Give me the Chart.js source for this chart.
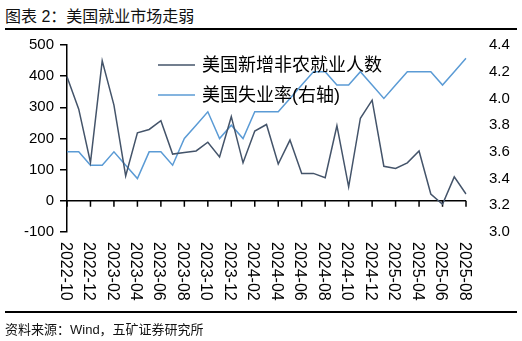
<!DOCTYPE html>
<html>
<head>
<meta charset="utf-8">
<script src="https://cdn.jsdelivr.net/npm/chart.js@4/dist/chart.umd.min.js"></script>
<style>
    body { margin: 0; background: #fff; font-family: "Liberation Sans", "Noto Sans CJK SC", sans-serif; }
    #cadre { position: relative; width: 522px; height: 341px; overflow: hidden; }
    #titre { position: absolute; left: 5px; top: 3px; font-size: 16px; color: #111; white-space: nowrap; }
    .filet { position: absolute; left: 5px; width: 512px; height: 2px; background: #000; }
    #source { position: absolute; left: 5px; top: 319px; font-size: 13px; color: #111; white-space: nowrap; }
    canvas { position: absolute; left: 0; top: 0; }
</style>
</head>
<body>
<div id="cadre">
    <div id="titre">图表 2：美国就业市场走弱</div>
    <div class="filet" style="top:28px"></div>
    <canvas id="graphique" width="522" height="341"></canvas>
    <div class="filet" style="top:311px"></div>
    <div id="source">资料来源：Wind，五矿证券研究所</div>
</div>
<script>
// Données (mensuel, 2022-10 -> 2025-08)
const mois = [
    '2022-10', '2022-11', '2022-12', '2023-01', '2023-02', '2023-03', '2023-04', '2023-05', '2023-06',
    '2023-07', '2023-08', '2023-09', '2023-10', '2023-11', '2023-12', '2024-01', '2024-02', '2024-03',
    '2024-04', '2024-05', '2024-06', '2024-07', '2024-08', '2024-09', '2024-10', '2024-11', '2024-12',
    '2025-01', '2025-02', '2025-03', '2025-04', '2025-05', '2025-06', '2025-07', '2025-08'
];
// 美国新增非农就业人数 (milliers, axe gauche)
const emploisNonAgricoles = [
    398, 294, 123, 449, 307, 80, 218, 229, 257, 150, 155, 160, 188, 141, 270, 122, 224, 245,
    118, 195, 88, 88, 74, 241, 45, 265, 323, 111, 104, 122, 160, 22, -11, 77, 22
];
// 美国失业率 (%, axe droit)
const tauxChomage = [
    3.6, 3.6, 3.5, 3.5, 3.6, 3.5, 3.4, 3.6, 3.6, 3.5, 3.7, 3.8, 3.9, 3.7, 3.8, 3.7, 3.9, 3.9,
    3.9, 4.0, 4.1, 4.2, 4.2, 4.1, 4.1, 4.2, 4.1, 4.0, 4.1, 4.2, 4.2, 4.2, 4.1, 4.2, 4.3
];
const ticksGauche = [-100, 0, 100, 200, 300, 400, 500];
const ticksDroite = [3.0, 3.2, 3.4, 3.6, 3.8, 4.0, 4.2, 4.4];

const POLICE = '"Liberation Sans", "Noto Sans CJK SC", sans-serif';
const COULEUR_EMPLOI = '#44546A';
const COULEUR_CHOMAGE = '#5B9BD5';

// Axe des X dessiné sur la ligne zéro + étiquettes verticales + légende maison
const axeZero = {
    id: 'axeZero',
    beforeDatasetsDraw(chart) {
        const { ctx, chartArea, scales } = chart;
        const y0 = scales.yG.getPixelForValue(0);
        ctx.save();
        ctx.strokeStyle = '#000';
        ctx.lineWidth = 1.5;
        ctx.beginPath();
        ctx.moveTo(chartArea.left, y0);
        ctx.lineTo(chartArea.right, y0);
        mois.forEach((m, i) => {
            if (i % 2) return;
            const px = scales.x.getPixelForValue(i);
            ctx.moveTo(px, y0);
            ctx.lineTo(px, y0 + 6);
        });
        ctx.stroke();
        ctx.restore();
    },
    afterDraw(chart) {
        const { ctx, scales } = chart;
        ctx.save();
        // étiquettes des mois, tournées de 90° dans le sens horaire
        ctx.fillStyle = '#000';
        ctx.font = '16px ' + POLICE;
        ctx.textAlign = 'left';
        ctx.textBaseline = 'middle';
        mois.forEach((m, i) => {
            if (i % 2) return;
            const px = scales.x.getPixelForValue(i);
            ctx.save();
            ctx.translate(px - 2, 242);
            ctx.rotate(Math.PI / 2);
            ctx.fillText(m, 0, 0);
            ctx.restore();
        });
        // légende
        ctx.font = '18px ' + POLICE;
        chart.data.datasets.forEach((ds, i) => {
            const y = 65 + i * 30;
            ctx.strokeStyle = ds.borderColor;
            ctx.lineWidth = 1.5;
            ctx.beginPath();
            ctx.moveTo(158, y);
            ctx.lineTo(195, y);
            ctx.stroke();
            ctx.fillStyle = '#000';
            ctx.fillText(ds.label, 202, y + 1);
        });
        ctx.restore();
    }
};

const ctx = document.getElementById('graphique').getContext('2d');
const graphique = new Chart(ctx, {
    type: 'line',
    data: {
        labels: mois,
        datasets: [
            {
                label: '美国新增非农就业人数',
                data: emploisNonAgricoles,
                yAxisID: 'yG',
                borderColor: COULEUR_EMPLOI,
                borderWidth: 1.5,
                pointRadius: 0,
                tension: 0
            },
            {
                label: '美国失业率(右轴)',
                data: tauxChomage,
                yAxisID: 'yD',
                borderColor: COULEUR_CHOMAGE,
                borderWidth: 1.5,
                pointRadius: 0,
                tension: 0
            }
        ]
    },
    options: {
        responsive: false,
        animation: false,
        layout: { padding: { top: 45, left: 0, right: 0, bottom: 0 } },
        plugins: {
            legend: { display: false },
            tooltip: { enabled: false }
        },
        scales: {
            x: {
                offset: false,
                ticks: { display: false },
                grid: { display: false },
                border: { display: false },
                afterFit(s) { s.height = 109; }
            },
            yG: {
                position: 'left',
                min: -100,
                max: 500,
                afterBuildTicks(s) { s.ticks = ticksGauche.map(v => ({ value: v })); },
                ticks: { color: '#000', padding: 6, font: { size: 15, family: POLICE } },
                grid: { drawOnChartArea: false, tickLength: 7, color: '#000', lineWidth: 1.5 },
                border: { color: '#000', width: 1.5 },
                afterFit(s) { s.width = 67; }
            },
            yD: {
                position: 'right',
                min: 3.0,
                max: 4.4,
                afterBuildTicks(s) { s.ticks = ticksDroite.map(v => ({ value: v })); },
                ticks: {
                    color: '#000',
                    padding: 15,
                    font: { size: 15, family: POLICE },
                    callback: v => Number(v).toFixed(1)
                },
                grid: { display: false },
                border: { display: false },
                afterFit(s) { s.width = 56; }
            }
        }
    },
    plugins: [axeZero]
});
</script>
</body>
</html>
